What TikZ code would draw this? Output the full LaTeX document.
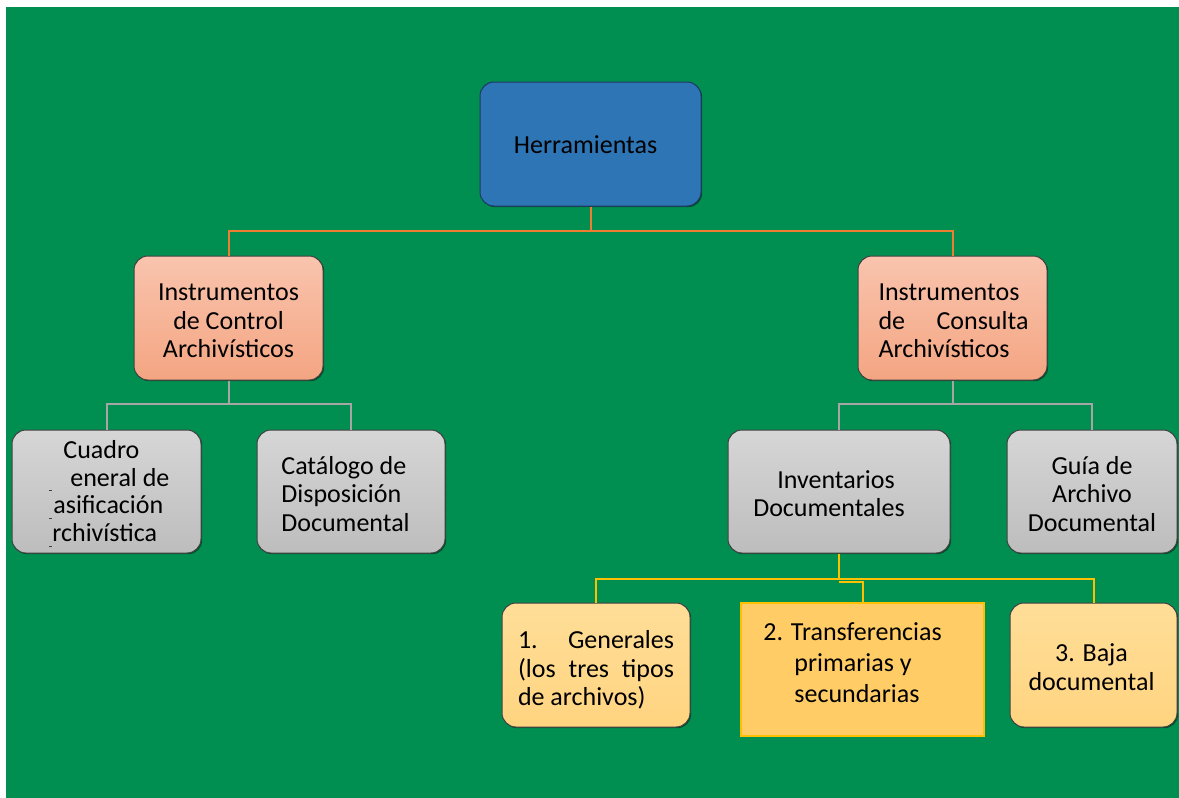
\documentclass[tikz,border=0pt]{standalone}
\usepackage{fontspec}
\setmainfont{Carlito}
\usetikzlibrary{shadows}
\definecolor{bggreen}{RGB}{0,143,81}
\definecolor{hblue}{RGB}{46,117,182}
\definecolor{hborder}{RGB}{32,56,100}
\definecolor{oline}{RGB}{237,125,49}
\definecolor{gline}{RGB}{166,166,166}
\definecolor{yline}{RGB}{255,192,0}
\definecolor{otop}{RGB}{249,196,174}
\definecolor{obot}{RGB}{244,165,130}
\definecolor{gtop}{RGB}{214,214,214}
\definecolor{gbot}{RGB}{189,189,189}
\definecolor{ytop}{RGB}{255,222,152}
\definecolor{ybot}{RGB}{255,212,128}
\definecolor{tfill}{RGB}{255,204,102}
\definecolor{boxedge}{RGB}{64,64,64}
\tikzset{
  rbox/.style={rounded corners=7pt, draw=boxedge, line width=0.5pt, inner sep=0pt,
    drop shadow={shadow xshift=0.6pt, shadow yshift=-0.6pt, opacity=0.45, fill=black}},
  hbox/.style={rbox, fill=hblue, draw=hborder},
  obox/.style={rbox, top color=otop, bottom color=obot},
  gbox/.style={rbox, top color=gtop, bottom color=gbot},
  ybox/.style={rbox, top color=ytop, bottom color=ybot},
  btext/.style={inner sep=0pt, align=center, font=\fontsize{13}{14.3}\selectfont},
  olink/.style={draw=oline, line width=1pt},
  glink/.style={draw=gline, line width=1pt},
  ylink/.style={draw=yline, line width=1pt},
  linetext/.style={inner sep=0pt, anchor=west, font=\fontsize{13}{14.3}\selectfont},
}
\begin{document}
\begin{tikzpicture}[x=0.5pt,y=-0.5pt]
\useasboundingbox[fill=white] (0,0) rectangle (1179,798);
\fill[bggreen] (6,7) rectangle (1179,798);

% boxes
\node[hbox, minimum width=110.5pt, minimum height=62pt] (H) at (590.5,144) {};
\node[obox, minimum width=94.5pt, minimum height=62pt] (C) at (228.5,318) {};
\node[obox, minimum width=94.5pt, minimum height=62pt] (S) at (952.5,318) {};
\node[gbox, minimum width=94.5pt, minimum height=61.5pt] (Q) at (106.5,491.5) {};
\node[gbox, minimum width=94pt, minimum height=61.5pt] (K) at (351,491.5) {};
\node[gbox, minimum width=111pt, minimum height=61.5pt] (I) at (839,491.5) {};
\node[gbox, minimum width=85pt, minimum height=61.5pt] (G) at (1092,491.5) {};
\node[ybox, minimum width=94pt, minimum height=62pt] (E) at (596,665) {};
\node[rectangle, fill=tfill, draw=yline, line width=1.2pt, minimum width=121.5pt, minimum height=66.5pt] (T) at (862.5,669.5) {};
\node[ybox, minimum width=83.5pt, minimum height=62pt] (B) at (1093.5,665) {};

% texts
\node[btext] (Ht) at (585.5,145) {Herramientas};
\node[btext] (Ct) at (228.5,321) {Instrumentos\\de Control\\Archivísticos};
\node[btext, align=left] (St) at (953.5,321)
  {Instrumentos\\\hbox to 75pt{de\hfill Consulta}\\Archivísticos};
\node[btext, align=left, anchor=west] (Kt) at (281,494) {Catálogo de\\Disposición\\Documental};
\node[btext] (It) at (839,493.5) {\hspace*{-3pt}Inventarios\\\hspace*{-10pt}Documentales};
\node[btext] (Gt) at (1092,494) {Guía de\\Archivo\\Documental};
\node[btext, align=left] (Et) at (596,670)
  {\hbox to 78pt{1.\hfill Generales}\\\hbox to 78pt{(los\hfill tres\hfill tipos}\\de archivos)};
\node[btext] (Bt) at (1091.5,667) {3. Baja\\documental};

% clipped text of Cuadro box
\node[linetext] (q1) at (63,450) {Cuadro};
\node[linetext] (q2) at (70,477.5) {eneral de};
\node[linetext] (q3) at (53,505) {asificación};
\node[linetext] (q4) at (52,532.5) {rchivística};
\draw[boxedge, line width=0.4pt] (49,490) -- (52,490) (49,518) -- (52,518) (49,546) -- (52,546);

% clipped text of Transferencias box
\begin{scope}
\clip (741,603) rectangle (984,702.5);
\node[inner sep=0pt, align=left, anchor=north west, font=\fontsize{13}{15.5}\selectfont] (Tt) at (763,622.5)
  {2. Transferencias\\\hspace*{15.5pt}primarias y\\\hspace*{15.5pt}secundarias};
\end{scope}

% connectors
\coordinate (j1) at (590.5,231);
\draw[olink] (H.south) -- (j1) -| (C.north);
\draw[olink] (j1) -| (S.north);
\coordinate (j2) at (228.5,404);
\draw[glink] (C.south) -- (j2) -| (Q.north);
\draw[glink] (j2) -| (K.north);
\coordinate (j3) at (952.5,404);
\draw[glink] (S.south) -- (j3) -| (I.north);
\draw[glink] (j3) -| (G.north);
\coordinate (j4) at (839,579);
\coordinate (j5) at (839,582);
\draw[ylink] (I.south) -- (j4) -| (E.north);
\draw[ylink] (j4) -| (B.north);
\draw[ylink] (j5) -| (T.north);
\end{tikzpicture}
\end{document}
